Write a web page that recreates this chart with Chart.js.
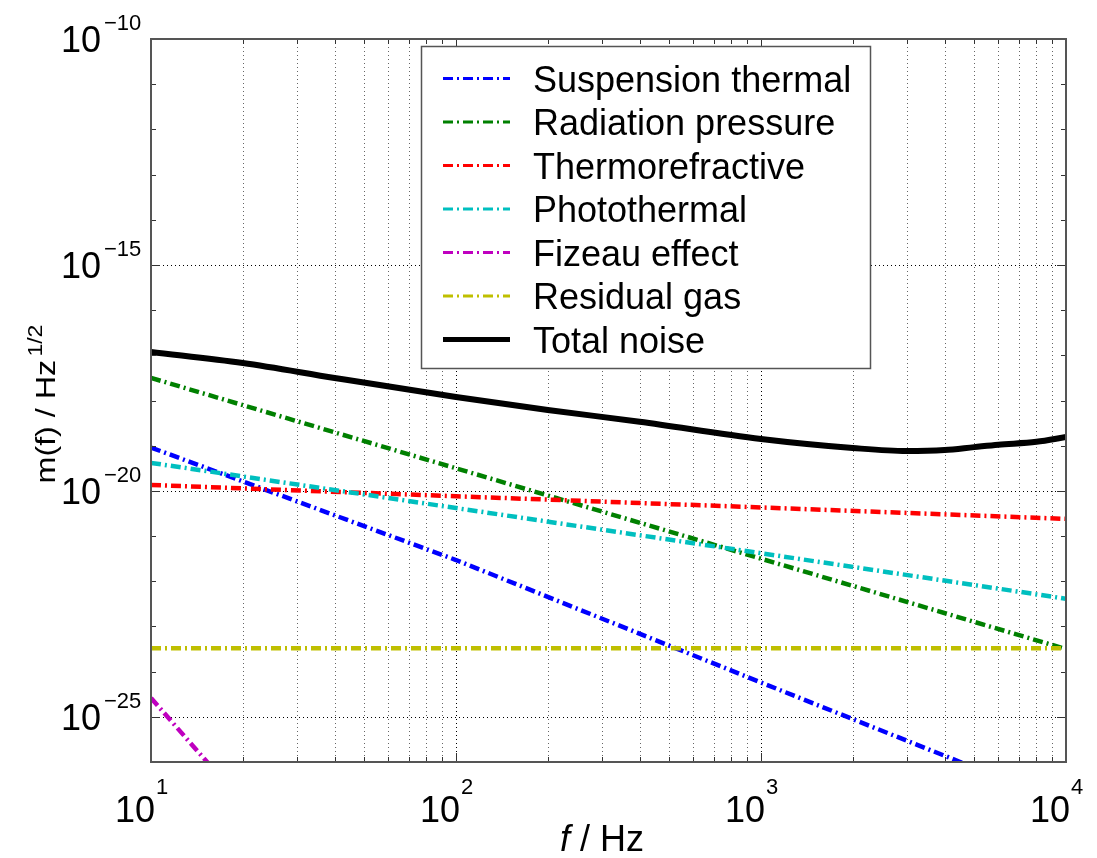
<!DOCTYPE html>
<html>
<head>
<meta charset="utf-8">
<script src="https://cdn.jsdelivr.net/npm/chart.js@4/dist/chart.umd.min.js"></script>
<style>
	body { margin: 0; background: #fff; }
	#wrap { width: 1097px; height: 858px; position: relative; }
</style>
</head>
<body>
<div id="wrap"><canvas id="graficoRuido"></canvas></div>
<script>
// valores (frequencia em Hz, ruido em m/sqrt(Hz))
const freqSusp = [10, 100, 1000, 4500, 10000];
const valSusp = [9.1e-20, 2.95e-22, 5.75e-25, 1.0e-26, 1.3e-27];
const freqRad = [10, 100, 1000, 10000];
const valRad = [3.16e-18, 3.16e-20, 3.16e-22, 3.16e-24];
const freqTermo = [10, 100, 1000, 10000];
const valTermo = [1.35e-20, 7.6e-21, 4.3e-21, 2.4e-21];
const freqFoto = [10, 100, 1000, 10000];
const valFoto = [4.17e-20, 4.17e-21, 4.17e-22, 4.1e-23];
const freqFizeau = [10, 15, 20];
const valFizeau = [2.6e-25, 1.15e-26, 1.3e-27];
const freqGas = [10, 10000];
const valGas = [3.3e-24, 3.3e-24];
const freqTotal = [10, 20, 40, 100, 200, 400, 1000, 2000, 3000, 4000, 5000, 6000, 8000, 10000];
const valTotal = [1.19e-17, 6.76e-18, 3.16e-18, 1.2e-18, 6.17e-19, 3.39e-19, 1.41e-19, 8.9e-20, 7.6e-20, 8.0e-20, 9.3e-20, 1.05e-19, 1.22e-19, 1.55e-19];

const nomes = ["Suspension thermal", "Radiation pressure", "Thermorefractive", "Photothermal", "Fizeau effect", "Residual gas", "Total noise"];
const cores = ["#0000ff", "#008000", "#ff0000", "#00bfbf", "#bf00bf", "#bfbf00", "#000000"];

// expoentes dos rotulos dos eixos (10^n)
const xTickExp = [1, 2, 3, 4];
const yTickExp = [-10, -15, -20, -25];

const FONTE = '"Liberation Sans", Arial, sans-serif';
const TRACO = [10, 4, 2, 4];

function pontos(fs, vs)
{
	return fs.map((f, i) => ({ x: f, y: vs[i] }));
}

function linha(ctx, x1, y1, x2, y2)
{
	ctx.beginPath();
	ctx.moveTo(x1, y1);
	ctx.lineTo(x2, y2);
	ctx.stroke();
}

const pluginEixos = {
	id: "eixos",
	beforeDatasetsDraw(chart) {
		const ctx = chart.ctx, a = chart.chartArea, sx = chart.scales.x, sy = chart.scales.y;
		ctx.save();
		ctx.lineWidth = 1;
		ctx.setLineDash([1, 3]);
		// grade vertical em todas as subdivisoes
		for (let d = 1; d < 4; d++) {
			for (let m = 1; m < 10; m++) {
				const px = Math.round(sx.getPixelForValue(m * Math.pow(10, d))) + 0.5;
				ctx.strokeStyle = m === 1 ? "#000" : "#666";
				linha(ctx, px, a.top, px, a.bottom);
			}
		}
		// grade horizontal so nas decadas principais
		ctx.strokeStyle = "#000";
		yTickExp.forEach(e => {
			const py = Math.round(sy.getPixelForValue(Math.pow(10, e))) + 0.5;
			linha(ctx, a.left, py, a.right, py);
		});
		ctx.restore();
	},
	afterDatasetsDraw(chart) {
		const ctx = chart.ctx, a = chart.chartArea, sx = chart.scales.x, sy = chart.scales.y;
		ctx.save();
		ctx.setLineDash([]);

		// marcas internas
		ctx.strokeStyle = "#333";
		ctx.lineWidth = 1;
		for (let d = 1; d <= 4; d++) {
			for (let m = 1; m < 10; m++) {
				if (d === 4 && m > 1) break;
				const px = Math.round(sx.getPixelForValue(m * Math.pow(10, d))) + 0.5;
				const len = m === 1 ? 9 : 5;
				linha(ctx, px, a.bottom, px, a.bottom - len);
				linha(ctx, px, a.top, px, a.top + len);
			}
		}
		for (let e = -26; e <= -10; e++) {
			const py = Math.round(sy.getPixelForValue(Math.pow(10, e))) + 0.5;
			const len = e % 5 === 0 ? 9 : 5;
			linha(ctx, a.left, py, a.left + len, py);
			linha(ctx, a.right, py, a.right - len, py);
		}

		// caixa do grafico
		ctx.strokeStyle = "#555";
		ctx.lineWidth = 2;
		ctx.strokeRect(a.left, a.top, a.right - a.left, a.bottom - a.top);

		// rotulos do eixo y
		ctx.fillStyle = "#000";
		ctx.textBaseline = "alphabetic";
		yTickExp.forEach(e => {
			const py = sy.getPixelForValue(Math.pow(10, e));
			ctx.font = "36px " + FONTE;
			ctx.textAlign = "right";
			ctx.fillText("10", 101, py + 13);
			ctx.font = "22px " + FONTE;
			ctx.textAlign = "left";
			ctx.fillText("\u2212" + Math.abs(e), 104, py - 9);
		});

		// rotulos do eixo x
		xTickExp.forEach(e => {
			const px = sx.getPixelForValue(Math.pow(10, e));
			ctx.font = "36px " + FONTE;
			ctx.textAlign = "right";
			ctx.fillText("10", px + 4, 822);
			ctx.font = "22px " + FONTE;
			ctx.textAlign = "left";
			ctx.fillText(String(e), px + 5, 794);
		});

		// titulo eixo x
		ctx.font = "italic 36px " + FONTE;
		const wf = ctx.measureText("f").width;
		ctx.font = "36px " + FONTE;
		const wr = ctx.measureText(" / Hz").width;
		let x0 = 602 - (wf + wr) / 2;
		ctx.textAlign = "left";
		ctx.font = "italic 36px " + FONTE;
		ctx.fillText("f", x0, 851);
		ctx.font = "36px " + FONTE;
		ctx.fillText(" / Hz", x0 + wf, 851);

		// titulo eixo y (um pouco esticado no sentido do texto)
		ctx.save();
		ctx.translate(55, 404);
		ctx.rotate(-Math.PI / 2);
		ctx.scale(1.15, 1);
		ctx.font = "28px " + FONTE;
		const wm = ctx.measureText("m(f) / Hz").width;
		ctx.font = "20px " + FONTE;
		const ws = ctx.measureText("1/2").width;
		const ini = -(wm + ws + 3) / 2;
		ctx.font = "28px " + FONTE;
		ctx.fillText("m(f) / Hz", ini, 0);
		ctx.font = "20px " + FONTE;
		ctx.fillText("1/2", ini + wm + 3, -13);
		ctx.restore();

		// legenda
		const lx = 421.5, ly = 46.5, lw = 449, lh = 322;
		ctx.fillStyle = "#fff";
		ctx.fillRect(lx, ly, lw, lh);
		ctx.strokeStyle = "#555";
		ctx.lineWidth = 1.5;
		ctx.strokeRect(lx, ly, lw, lh);
		chart.data.datasets.forEach((ds, i) => {
			const ry = 78.5 + i * 43.5;
			ctx.strokeStyle = ds.borderColor;
			ctx.lineWidth = i === 6 ? 5 : 3;
			ctx.setLineDash(ds.borderDash);
			linha(ctx, 443, ry, 510, ry);
			ctx.setLineDash([]);
			ctx.fillStyle = "#000";
			ctx.font = "36px " + FONTE;
			ctx.textAlign = "left";
			ctx.fillText(ds.label, 533, ry + 13);
		});
		ctx.restore();
	}
};

function Init()
{
	const series = [
		[freqSusp, valSusp], [freqRad, valRad], [freqTermo, valTermo], [freqFoto, valFoto],
		[freqFizeau, valFizeau], [freqGas, valGas], [freqTotal, valTotal]
	];

	const datasets = series.map((s, i) => {
		const total = i === 6;
		return {
			label: nomes[i],
			data: pontos(s[0], s[1]),
			borderColor: cores[i],
			backgroundColor: cores[i],
			borderWidth: total ? 6 : 4.5,
			borderDash: total ? [] : TRACO,
			pointRadius: 0,
			cubicInterpolationMode: total ? "monotone" : "default",
			tension: 0,
			clip: 0,
			order: 6 - i
		};
	});

	new Chart(document.getElementById("graficoRuido").getContext("2d"), {
		type: "line",
		data: { datasets: datasets },
		options: {
			responsive: true,
			maintainAspectRatio: false,
			animation: false,
			devicePixelRatio: 1,
			layout: { padding: { left: 151, top: 39, right: 31, bottom: 96 } },
			plugins: { legend: { display: false }, tooltip: { enabled: false } },
			scales: {
				x: { type: "logarithmic", min: 10, max: 10000, display: false },
				y: { type: "logarithmic", min: 1e-26, max: 1e-10, display: false }
			}
		},
		plugins: [pluginEixos]
	});
}

Init();
</script>
</body>
</html>
